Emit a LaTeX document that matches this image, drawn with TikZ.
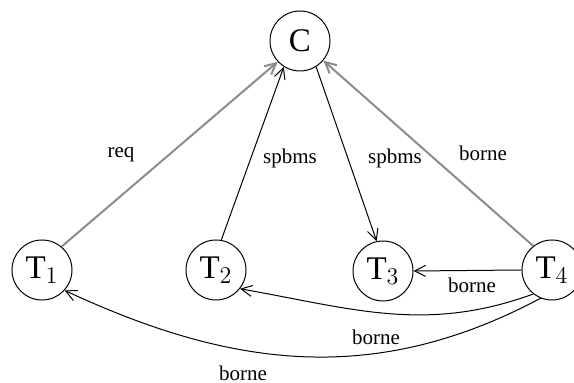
\documentclass[tikz,border=0pt]{standalone}
\usepackage{fontspec}
\setmainfont{Liberation Serif}
\usetikzlibrary{arrows.meta}
\begin{document}
\begin{tikzpicture}[x=0.5pt,y=-0.5pt,
  proc/.style={draw, circle, minimum size=30pt, inner sep=0pt, line width=0.5pt,
    font=\fontsize{16.5}{18}\selectfont},
  lbl/.style={font=\fontsize{10.5}{12}\selectfont, inner sep=0pt},
  msg/.style={line width=0.5pt, -{Straight Barb[length=5.5pt,width=5.5pt]}},
  gmsg/.style={draw=black!45, line width=1pt, -{Straight Barb[length=5.5pt,width=5.5pt]}}]
  \useasboundingbox (0,0) rectangle (574,383);
  % process nodes
  \node[proc] (C)  at (300,41)  {C};
  \node[proc] (T1) at (42,270)  {T$_1$};
  \node[proc] (T2) at (216,270) {T$_2$};
  \node[proc] (T3) at (383,271) {T$_3$};
  \node[proc] (T4) at (552,270) {T$_4$};
  % messages towards and from the coordinator
  \draw[gmsg] (T1.50) -- (C.223);
  \draw[msg]  (T2.80) -- (C.238);
  \draw[msg]  (C.-58) -- (T3.102);
  \draw[gmsg] (T4.128) -- (C.-40);
  % bounds sent by T4
  \draw[msg] (T4.180) -- (T3.0);
  \draw[msg] (T4.-128) to[out=200, in=-10] (T2.-38);
  \draw[msg] (T4.-112) to[out=208, in=-25] (T1.-42);
  % labels
  \node[lbl] (lreq)  at (121,155) {req};
  \node[lbl] (lsp1)  at (290,158) {spbms};
  \node[lbl] (lsp2)  at (395,158) {spbms};
  \node[lbl] (lb1)   at (483,153) {borne};
  \node[lbl] (lb2)   at (472,285) {borne};
  \node[lbl] (lb3)   at (376,337) {borne};
  \node[lbl] (lb4)   at (243,373) {borne};
\end{tikzpicture}
\end{document}
